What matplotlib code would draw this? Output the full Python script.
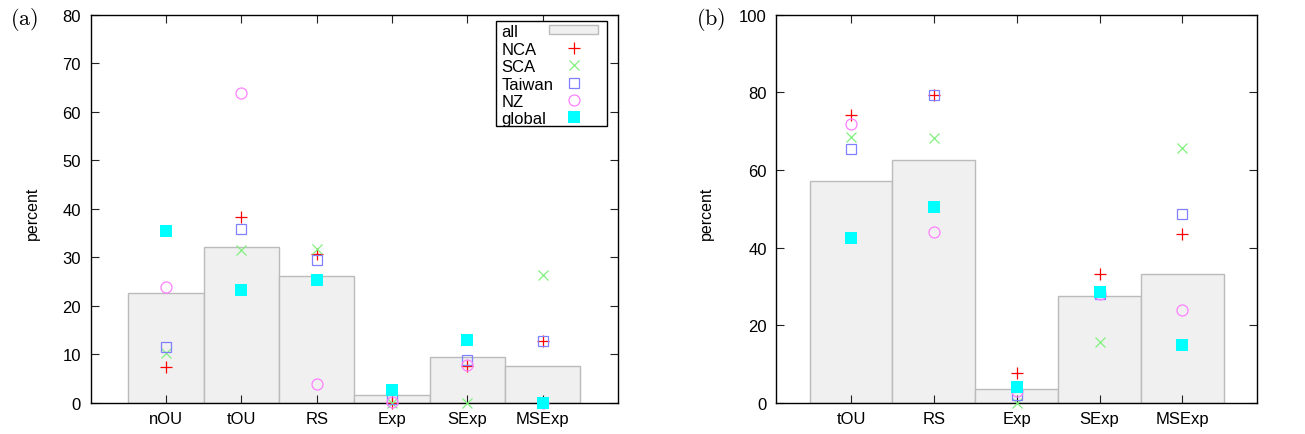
import matplotlib
matplotlib.use("Agg")
import matplotlib.pyplot as plt
import numpy as np
from matplotlib.patches import Rectangle

plt.rcParams['font.family'] = ['Liberation Sans', 'DejaVu Sans']
plt.rcParams['mathtext.fontset'] = 'cm'

# ---- panel (a) data ----
cats_a = ["nOU", "tOU", "RS", "Exp", "SExp", "MSExp"]
all_a = [22.6, 32.1, 26.1, 1.7, 9.4, 7.6]
nca_a = [7.5, 38.4, 30.6, 0.0, 7.6, 12.7]
sca_a = [10.4, 31.5, 31.7, 0.0, 0.0, 26.3]
taiwan_a = [11.5, 35.8, 29.5, 0.8, 8.9, 12.8]
nz_a = [24.0, 63.9, 3.9, 0.3, 7.9, 0.0]
global_a = [35.5, 23.3, 25.3, 2.7, 13.0, 0.0]

# ---- panel (b) data ----
cats_b = ["tOU", "RS", "Exp", "SExp", "MSExp"]
all_b = [57.1, 62.5, 3.6, 27.6, 33.1]
nca_b = [74.2, 79.4, 7.6, 33.3, 43.4]
sca_b = [68.4, 68.3, 0.0, 15.7, 65.7]
taiwan_b = [65.3, 79.4, 2.1, 28.0, 48.7]
nz_b = [71.9, 44.0, 3.0, 28.0, 23.9]
global_b = [42.6, 50.6, 4.2, 28.5, 15.0]

legend_labels = ["all", "NCA", "SCA", "Taiwan", "NZ", "global"]

BAR_FC = "#f0f0f0"
BAR_EC = "#bbbbbb"
C_NCA = "#ff0000"
C_SCA = "#80f080"
C_TW = "#8080ff"
C_NZ = "#ff80ff"
C_GL = "#00ffff"
MS = 8.8
LW = 0.9
FS = 12

STYLES = [
    dict(marker='+', ms=MS, mew=LW, color=C_NCA),
    dict(marker='x', ms=MS * 0.85, mew=LW, color=C_SCA),
    dict(marker='s', ms=MS * 0.85, mew=LW, mfc='none', mec=C_TW),
    dict(marker='o', ms=MS * 0.9, mew=LW, mfc='none', mec=C_NZ),
    dict(marker='s', ms=MS, mew=0, color=C_GL),
]

fig = plt.figure(figsize=(13.05, 4.35), dpi=100)
ax_a = fig.add_axes([0.0695, 0.0713, 0.4041, 0.8926])
ax_b = fig.add_axes([0.5950, 0.0713, 0.3682, 0.8926])


def draw(ax, cats, allv, series, ymax, ystep, xlim, ylab_x):
    x = np.arange(1, len(cats) + 1)
    ax.bar(x, allv, width=1.0, color=BAR_FC, edgecolor=BAR_EC, linewidth=1.0, zorder=1)
    for vals, st in zip(series, STYLES):
        ax.plot(x, vals, ls='none', zorder=3, clip_on=False, **st)
    ax.set_xlim(*xlim)
    ax.set_ylim(0, ymax)
    ax.set_xticks(x)
    ax.set_xticklabels(cats)
    ax.set_yticks(np.arange(0, ymax + 0.1, ystep))
    ax.tick_params(direction='in', top=True, right=True, length=5.5, width=0.8,
                   labelsize=FS, colors='#222222', labelcolor='black')
    ax.tick_params(axis='y', pad=7)
    ax.tick_params(axis='x', pad=6)
    for s in ax.spines.values():
        s.set_linewidth(1.0)
        s.set_color('black')
    ax.set_ylabel("percent", fontsize=11.5)
    ax.yaxis.set_label_coords(ylab_x, 0.49)


draw(ax_a, cats_a, all_a, [nca_a, sca_a, taiwan_a, nz_a, global_a], 80, 10, (0, 7), -0.097)
draw(ax_b, cats_b, all_b, [nca_b, sca_b, taiwan_b, nz_b, global_b], 100, 20, (0.1, 5.9), -0.13)

# ---- gnuplot-style legend (text left, sample right) in panel (a) ----
ax_l, ax_r, ax_t, ax_btm = 90.7, 618.0, 15.7, 404.0


def px(xp, yp):
    return ((xp - ax_l) / (ax_r - ax_l), (ax_btm - yp) / (ax_btm - ax_t))


x0, y0 = px(496, 126.7)
x1, y1 = px(607, 21.7)
ax_a.add_patch(Rectangle((x0, y0), x1 - x0, y1 - y0, transform=ax_a.transAxes,
                         facecolor='white', edgecolor='black', linewidth=1.0, zorder=10))
row_y = [30.7, 48.5, 66.0, 83.5, 101.0, 118.5]
tx, _ = px(501.5, 0)
mx, _ = px(573.5, 0)
for i, lab in enumerate(legend_labels):
    _, yy = px(0, row_y[i])
    ax_a.text(tx, yy, lab, transform=ax_a.transAxes, fontsize=FS, ha='left', va='center_baseline',
              zorder=11)
    if i == 0:
        bx0, by0 = px(549, 34.5)
        bx1, by1 = px(597.5, 26.0)
        ax_a.add_patch(Rectangle((bx0, by0), bx1 - bx0, by1 - by0, transform=ax_a.transAxes,
                                 facecolor=BAR_FC, edgecolor=BAR_EC, linewidth=1.0, zorder=11))
    else:
        ax_a.plot([mx], [yy], ls='none', transform=ax_a.transAxes, zorder=11, clip_on=False,
                  **STYLES[i - 1])

fig.text(0.0075, 0.955, r"$\mathrm{(a)}$", fontsize=16, va='center', ha='left')
fig.text(0.5335, 0.955, r"$\mathrm{(b)}$", fontsize=16, va='center', ha='left')

fig.savefig("out.png", dpi=100)
